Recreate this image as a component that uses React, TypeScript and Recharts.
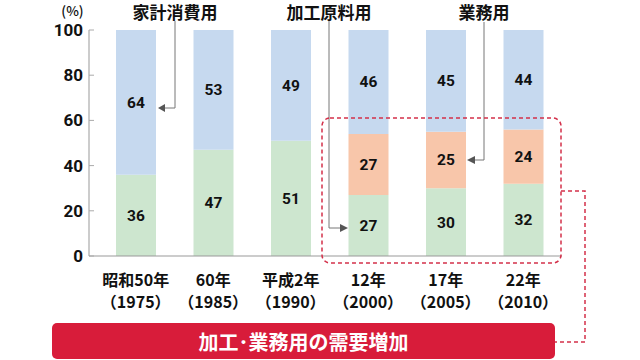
import React from "react";
import { BarChart, Bar, XAxis, YAxis, LabelList } from "recharts";

const eraLabels = ["昭和50年", "60年", "平成2年", "12年", "17年", "22年"];
const yearLabels = ["（1975）", "（1985）", "（1990）", "（2000）", "（2005）", "（2010）"];
const processing = [36, 47, 51, 27, 30, 32];
const foodService: (number | null)[] = [null, null, null, 27, 25, 24];
const household = [64, 53, 49, 46, 45, 44];
const yTicks = [0, 20, 40, 60, 80, 100];

const data = eraLabels.map((era, i) => ({
  era,
  year: yearLabels[i],
  processing: processing[i],
  foodService: foodService[i],
  household: household[i],
}));

const CJK = "'Noto Sans CJK JP', 'Noto Sans', sans-serif";
const NUM = "Roboto, 'Noto Sans', sans-serif";

const YTick = (props: any) => {
  const { x, y, payload } = props;
  return (
    <g>
      <line x1={x + 6} x2={x + 11} y1={y} y2={y} stroke="#aaa" strokeWidth={1} />
      <text x={x} y={y} textAnchor="end" dominantBaseline="central" fontFamily={NUM} fontWeight={700} fontSize={17} fill="#111">
        {payload.value}
      </text>
    </g>
  );
};

const XTick = (props: any) => {
  const { x, y, index } = props;
  return (
    <g>
      <text x={x} y={y + 23} textAnchor="middle" dominantBaseline="central" fontFamily={CJK} fontWeight={600} fontSize={16} fill="#111">
        {eraLabels[index]}
      </text>
      <text x={x} y={y + 45} textAnchor="middle" dominantBaseline="central" fontFamily={CJK} fontWeight={600} fontSize={16} fill="#111">
        {yearLabels[index]}
      </text>
    </g>
  );
};

const labelStyle = { fontFamily: NUM, fontWeight: 700, fontSize: 15.5, fill: "#111" };

const RED = "#d81c3a";
const DASH = "#d3304a";
const ARROW = "#777";

export default function App() {
  return (
    <div style={{ position: "absolute", left: 0, top: 0, width: 640, height: 360, background: "#fff" }}>
      <BarChart
        width={640}
        height={360}
        data={data}
        margin={{ top: 30, right: 78, left: 0, bottom: 44 }}
        barSize={40}
      >
        <XAxis
          dataKey="era"
          tick={<XTick />}
          tickLine={false}
          tickSize={0}
          tickMargin={0}
          height={60}
          axisLine={{ stroke: "#999" }}
          padding={{ left: 8, right: 0 }}
          interval={0}
        />
        <YAxis
          domain={[0, 100]}
          ticks={yTicks}
          width={89}
          tick={<YTick />}
          tickLine={false}
          tickSize={0}
          tickMargin={6}
          axisLine={{ stroke: "#999" }}
          interval={0}
        />
        <Bar dataKey="processing" stackId="a" fill="#cde6cf" isAnimationActive={false}>
          <LabelList dataKey="processing" position="center" style={labelStyle} />
        </Bar>
        <Bar dataKey="foodService" stackId="a" fill="#f8c6aa" isAnimationActive={false}>
          <LabelList dataKey="foodService" position="center" style={labelStyle} />
        </Bar>
        <Bar dataKey="household" stackId="a" fill="#c6d9ef" isAnimationActive={false}>
          <LabelList dataKey="household" position="center" style={labelStyle} />
        </Bar>
      </BarChart>
      <svg width={640} height={360} style={{ position: "absolute", left: 0, top: 0, pointerEvents: "none" }}>
        <text x={72.5} y={10} textAnchor="middle" fontFamily={CJK} fontWeight={500} fontSize={13.5} fill="#111" dominantBaseline="central">(%)</text>
        <text x={175} y={11} textAnchor="middle" dominantBaseline="central" fontFamily={CJK} fontWeight={600} fontSize={17} fill="#111">家計消費用</text>
        <text x={329} y={11} textAnchor="middle" dominantBaseline="central" fontFamily={CJK} fontWeight={600} fontSize={17} fill="#111">加工原料用</text>
        <text x={484} y={11} textAnchor="middle" dominantBaseline="central" fontFamily={CJK} fontWeight={600} fontSize={17} fill="#111">業務用</text>

        <polyline points="175,21 175,108 165,108" fill="none" stroke={ARROW} strokeWidth={1} />
        <polygon points="158,108 165,104 165,112" fill="#555" />
        <polyline points="329,21 329,228 340,228" fill="none" stroke={ARROW} strokeWidth={1} />
        <polygon points="348,228 340,224 340,232" fill="#555" />
        <polyline points="484,22 484,160 475,160" fill="none" stroke={ARROW} strokeWidth={1} />
        <polygon points="467,160 475,156 475,164" fill="#555" />

        <rect x={322} y={118} width={239} height={145} rx={8} fill="none" stroke={DASH} strokeWidth={1.5} strokeDasharray="4 3" />
        <path d="M561 191 H585 V342 H555" fill="none" stroke={DASH} strokeWidth={1.5} strokeDasharray="4 3" />

        <rect x={52} y={323} width={503} height={36} rx={5} fill={RED} />
        <text x={303.5} y={341} textAnchor="middle" dominantBaseline="central" fontFamily={CJK} fontWeight={600} fontSize={20} fill="#fff">加工･業務用の需要増加</text>
      </svg>
    </div>
  );
}
